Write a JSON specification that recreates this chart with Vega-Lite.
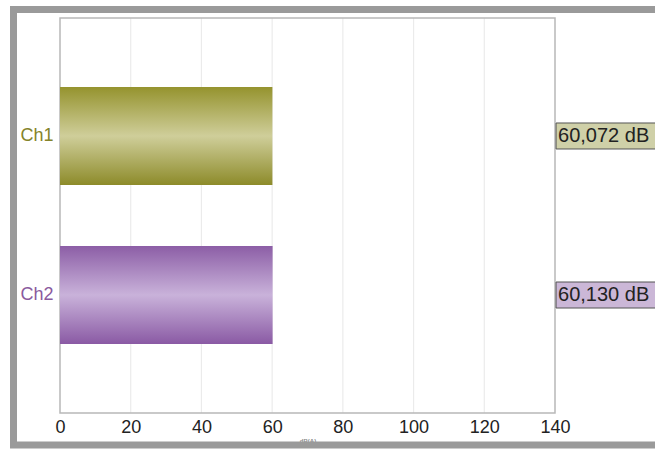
{
  "$schema": "https://vega.github.io/schema/vega-lite/v6.json",
  "width": 641.5,
  "height": 436,
  "autosize": {"type": "none"},
  "padding": {"left": 13.5, "top": 9.5, "right": 0, "bottom": 3.5},
  "background": "white",
  "config": {
    "view": {"stroke": null, "fill": "white"},
    "font": "Liberation Sans"
  },
  "datasets": {
    "readings": [
      {"ch": "Ch1", "level": 60.072, "label": "60,072 dB"},
      {"ch": "Ch2", "level": 60.13, "label": "60,130 dB"}
    ],
    "gridticks": [
      {"v": 20}, {"v": 40}, {"v": 60}, {"v": 80}, {"v": 100}, {"v": 120}
    ]
  },
  "resolve": {"scale": {"y": "independent"}},
  "layer": [
    {
      "layer": [
        {
          "data": {"name": "gridticks"},
          "mark": {"type": "rule", "color": "#ebebeb", "strokeWidth": 1.2},
          "encoding": {
            "x": {
              "field": "v",
              "type": "quantitative",
              "scale": {"domain": [0, 140], "nice": false, "range": [46.5, 541.5]},
              "axis": {
                "title": "dB(A)",
                "titleFontSize": 6,
                "titleColor": "#888",
                "titlePadding": 1,
                "offset": -32.5,
                "values": [0, 20, 40, 60, 80, 100, 120, 140],
                "labelFontSize": 18,
                "labelColor": "#222",
                "labelPadding": 5,
                "domain": false,
                "ticks": false,
                "grid": false,
                "labelFlush": false
              }
            },
            "y": {"datum": 0, "type": "quantitative", "scale": {"domain": [0, 1], "range": [403.5, 8.5]}, "axis": null},
            "y2": {"datum": 1}
          }
        },
        {
          "data": {"values": [{}]},
          "mark": {"type": "rect", "fill": null, "stroke": "#b8b8b8", "strokeWidth": 1.5},
          "encoding": {
            "x": {"datum": 0, "type": "quantitative"},
            "x2": {"datum": 140},
            "y": {"datum": 0, "type": "quantitative"},
            "y2": {"datum": 1}
          }
        },
        {
          "data": {"values": [{}]},
          "mark": {"type": "rect", "fill": null, "stroke": "#9a9a9a", "strokeWidth": 7},
          "encoding": {
            "x": {"datum": -13.15, "type": "quantitative"},
            "x2": {"datum": 172},
            "y": {"datum": -0.081, "type": "quantitative"},
            "y2": {"datum": 1.0215}
          }
        }
      ]
    },
    {
      "data": {"name": "readings"},
      "encoding": {
        "y": {
          "field": "ch",
          "type": "nominal",
          "scale": {"paddingInner": 0.384, "paddingOuter": 0.434, "range": [8.5, 403.5]},
          "axis": {
            "orient": "left",
            "title": null,
            "domain": false,
            "ticks": false,
            "offset": -46.5,
            "labelFontSize": 18,
            "labelPadding": 7,
            "labelColor": {"condition": {"test": "datum.value == 'Ch1'", "value": "#85832a"}, "value": "#8a5a9e"}
          }
        }
      },
      "layer": [
        {
          "transform": [{"filter": "datum.ch == 'Ch1'"}],
          "mark": {
            "type": "bar",
            "color": {"gradient": "linear", "x1": 0, "y1": 0, "x2": 0, "y2": 1,
              "stops": [
                {"offset": 0, "color": "#95932e"},
                {"offset": 0.5, "color": "#cfce9a"},
                {"offset": 1, "color": "#8d8b2a"}
              ]}
          },
          "encoding": {"x": {"field": "level", "type": "quantitative"}}
        },
        {
          "transform": [{"filter": "datum.ch == 'Ch2'"}],
          "mark": {
            "type": "bar",
            "color": {"gradient": "linear", "x1": 0, "y1": 0, "x2": 0, "y2": 1,
              "stops": [
                {"offset": 0, "color": "#8c5ea6"},
                {"offset": 0.5, "color": "#c9b2da"},
                {"offset": 1, "color": "#8a5aa4"}
              ]}
          },
          "encoding": {"x": {"field": "level", "type": "quantitative"}}
        },
        {
          "mark": {"type": "bar", "height": 26, "stroke": "#555", "strokeWidth": 1},
          "encoding": {
            "x": {"datum": 140.3, "type": "quantitative"},
            "x2": {"datum": 168.5},
            "fill": {
              "field": "ch",
              "type": "nominal",
              "scale": {"domain": ["Ch1", "Ch2"], "range": ["#cfd0a8", "#cbb7d7"]},
              "legend": null
            }
          }
        },
        {
          "mark": {"type": "text", "align": "left", "dx": 2, "fontSize": 20, "color": "#222"},
          "encoding": {
            "x": {"datum": 140.3, "type": "quantitative"},
            "text": {"field": "label"}
          }
        }
      ]
    }
  ]
}
